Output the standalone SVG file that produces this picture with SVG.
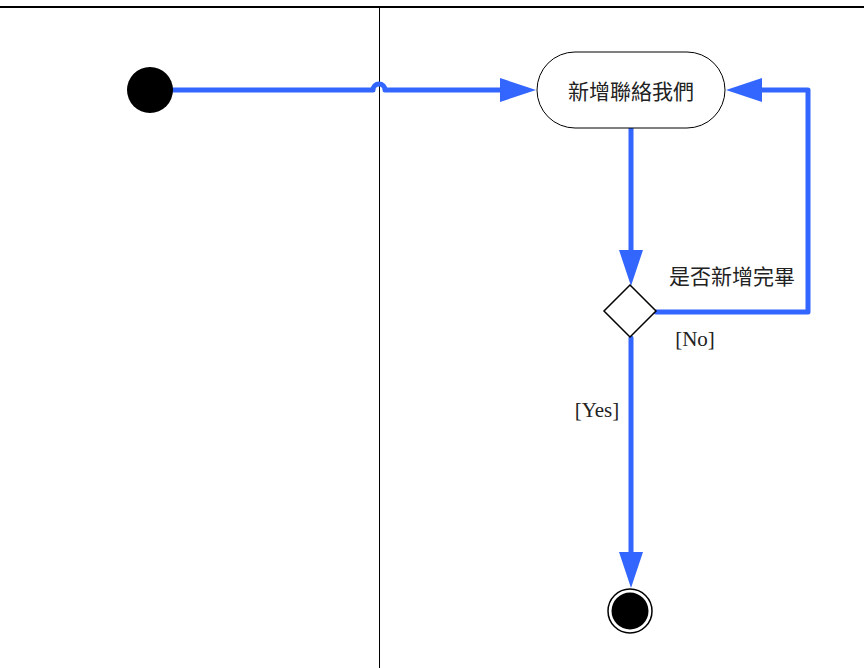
<svg xmlns="http://www.w3.org/2000/svg" width="864" height="668" viewBox="0 0 864 668">
<defs>
<style>
.frame{stroke:#000;fill:none}
.edge{stroke:#3366FF;stroke-width:5;fill:none;stroke-linejoin:round;stroke-linecap:round}
.arr{fill:#3366FF}
.cjk{font-family:"Noto Sans CJK TC","Noto Sans",sans-serif;font-size:21px;fill:#222}
.lbl{font-family:"Liberation Serif",serif;font-size:21px;fill:#222}
</style>
</defs>
<rect width="864" height="668" fill="#fff"/>
<g id="swimlanes">
<line class="frame" x1="0" y1="7" x2="864" y2="7" stroke-width="2"/>
<line class="frame" x1="379.5" y1="7" x2="379.5" y2="668" stroke-width="1"/>
</g>
<g id="connectors">
<path class="edge" d="M172,90 H373 A6,6 0 0 1 385,90 H502"/>
<polygon class="arr" points="536,90 500,78 500,102"/>
<path class="edge" d="M631,128 V252"/>
<polygon class="arr" points="631,286 619,250 643,250"/>
<path class="edge" d="M656,312 H808 V90 H762"/>
<polygon class="arr" points="726,90 762,78 762,102"/>
<path class="edge" d="M631,338 V554"/>
<polygon class="arr" points="631,588 619,552 643,552"/>
</g>
<g id="start">
<circle cx="150" cy="90" r="23" fill="#000"/>
</g>
<g id="activity">
<rect x="537" y="52" width="188" height="76" rx="38" ry="38" fill="#fff" stroke="#000" stroke-width="1"/>
<text class="cjk" x="631" y="99" text-anchor="middle">新增聯絡我們</text>
</g>
<g id="decision">
<polygon points="630,285 656,311 630,337 604,311" fill="#fff" stroke="#000" stroke-width="1.5"/>
<text class="cjk" x="732" y="284" text-anchor="middle">是否新增完畢</text>
<text class="lbl" x="695" y="346" text-anchor="middle">[No]</text>
<text class="lbl" x="597" y="417" text-anchor="middle">[Yes]</text>
</g>
<g id="end">
<circle cx="630" cy="611" r="22" fill="#fff" stroke="#000" stroke-width="1.5"/>
<circle cx="630" cy="611" r="18.5" fill="#000"/>
</g>
</svg>
